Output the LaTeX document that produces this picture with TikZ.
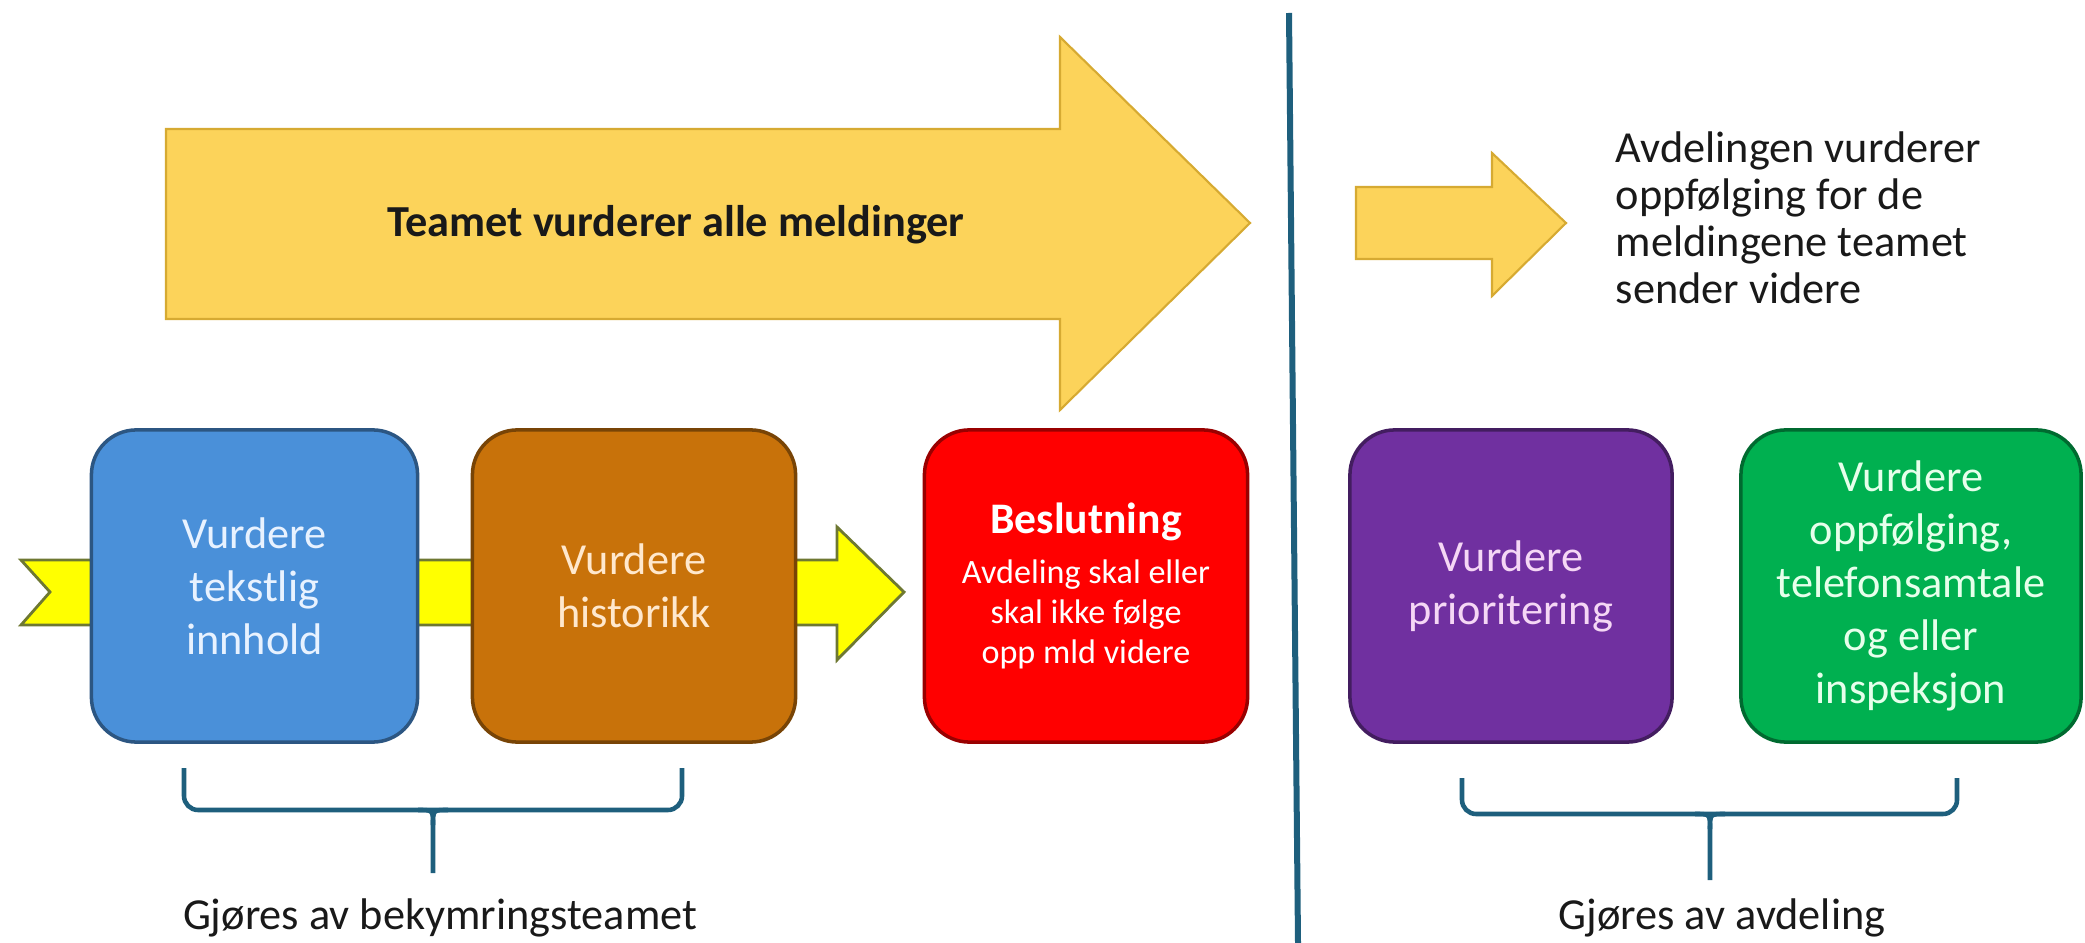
\documentclass[tikz,border=0pt]{standalone}
\usepackage{fontspec}
\setmainfont{Carlito}
\definecolor{cgold}{RGB}{252,211,90}
\definecolor{cgoldb}{RGB}{214,170,50}
\definecolor{cyel}{RGB}{255,255,0}
\definecolor{cyelb}{RGB}{110,120,50}
\definecolor{cblue}{RGB}{74,144,217}
\definecolor{cbrown}{RGB}{200,114,10}
\definecolor{cred}{RGB}{255,0,0}
\definecolor{cpurple}{RGB}{112,48,160}
\definecolor{cgreen}{RGB}{0,176,80}
\definecolor{cline}{RGB}{30,95,125}
\definecolor{tblue}{RGB}{232,242,255}
\definecolor{tbrown}{RGB}{255,232,205}
\definecolor{tpurple}{RGB}{245,215,245}
\definecolor{tgreen}{RGB}{230,255,235}
\definecolor{ttext}{RGB}{25,25,25}
\begin{document}
\begin{tikzpicture}[x=0.01cm,y=-0.01cm,
  stepbox/.style={rounded corners=0.45cm, line width=1pt, minimum height=3.12cm,
    inner sep=0pt, align=center, font=\fontsize{12.6}{15.1}\selectfont},
  arrowshape/.style={fill=cgold, draw=cgoldb, line width=0.6pt},
  brk/.style={draw=cline, line width=1.3pt},
  lbl/.style={font=\fontsize{12.6}{15.1}\selectfont, text=ttext, inner sep=0pt}]
\useasboundingbox (0,0) rectangle (2085,943);
% big arrow
\path[arrowshape] (166,129) -- (1060,129) -- (1060,37) -- (1250,223) -- (1060,410) -- (1060,319) -- (166,319) -- cycle;
\node[lbl, font=\fontsize{12.6}{15.1}\selectfont\bfseries] (t1) at (676,225) {Teamet vurderer alle meldinger};
% small arrow
\path[arrowshape] (1356,187) -- (1492,187) -- (1492,153) -- (1566,223) -- (1492,296) -- (1492,259) -- (1356,259) -- cycle;
\node[lbl, align=left, anchor=west, font=\fontsize{12.6}{13.4}\selectfont] (t2) at (1615,218)
  {Avdelingen vurderer\\oppfølging for de\\meldingene teamet\\sender videre};
% divider
\coordinate (vtop) at (1289,13);
\coordinate (vbot) at (1298,943);
\draw[cline, line width=0.06cm] (vtop) -- (vbot);
% yellow chevron
\path[fill=cyel, draw=cyelb, line width=0.8pt] (21,560) -- (837,560) -- (837,527) -- (904,592) -- (837,660) -- (837,625) -- (21,625) -- (50,592) -- cycle;
% boxes
\node[stepbox, fill=cblue, draw=cblue!60!black, minimum width=3.26cm, text=tblue] (b1) at (254.5,586) {Vurdere\\tekstlig\\innhold};
\node[stepbox, fill=cbrown, draw=cbrown!60!black, minimum width=3.23cm, text=tbrown] (b2) at (634,586) {Vurdere\\historikk};
\node[stepbox, fill=cred, draw=cred!60!black, minimum width=3.23cm, text=white, font=\fontsize{9.7}{11.4}\selectfont] (b3) at (1086,586)
  {{\fontsize{12.4}{15}\selectfont\bfseries Beslutning}\\[2.8pt]Avdeling skal eller\\skal ikke følge\\opp mld videre};
\node[stepbox, fill=cpurple, draw=cpurple!60!black, minimum width=3.22cm, text=tpurple] (b4) at (1511,586) {Vurdere\\prioritering};
\node[stepbox, fill=cgreen, draw=cgreen!60!black, minimum width=3.40cm, text=tgreen] (b5) at (1911,586) {Vurdere\\oppfølging,\\telefonsamtale\\og eller\\inspeksjon};
% labels
\node[lbl] (g1) at (440,918) {Gjøres av bekymringsteamet};
\node[lbl] (g2) at (1722,918) {Gjøres av avdeling};
% brackets
\draw[brk, rounded corners=4pt] (184,768) -- (184,810) -- (682,810) -- (682,768);
\draw[brk] (418,810) .. controls (433,810) .. (433,825) -- (433,873);
\draw[brk] (448,810) .. controls (433,810) .. (433,825);
\draw[brk, rounded corners=4pt] (1462,778) -- (1462,814) -- (1957,814) -- (1957,778);
\draw[brk] (1695,814) .. controls (1710,814) .. (1710,829) -- (1710,880);
\draw[brk] (1725,814) .. controls (1710,814) .. (1710,829);
\end{tikzpicture}
\end{document}
